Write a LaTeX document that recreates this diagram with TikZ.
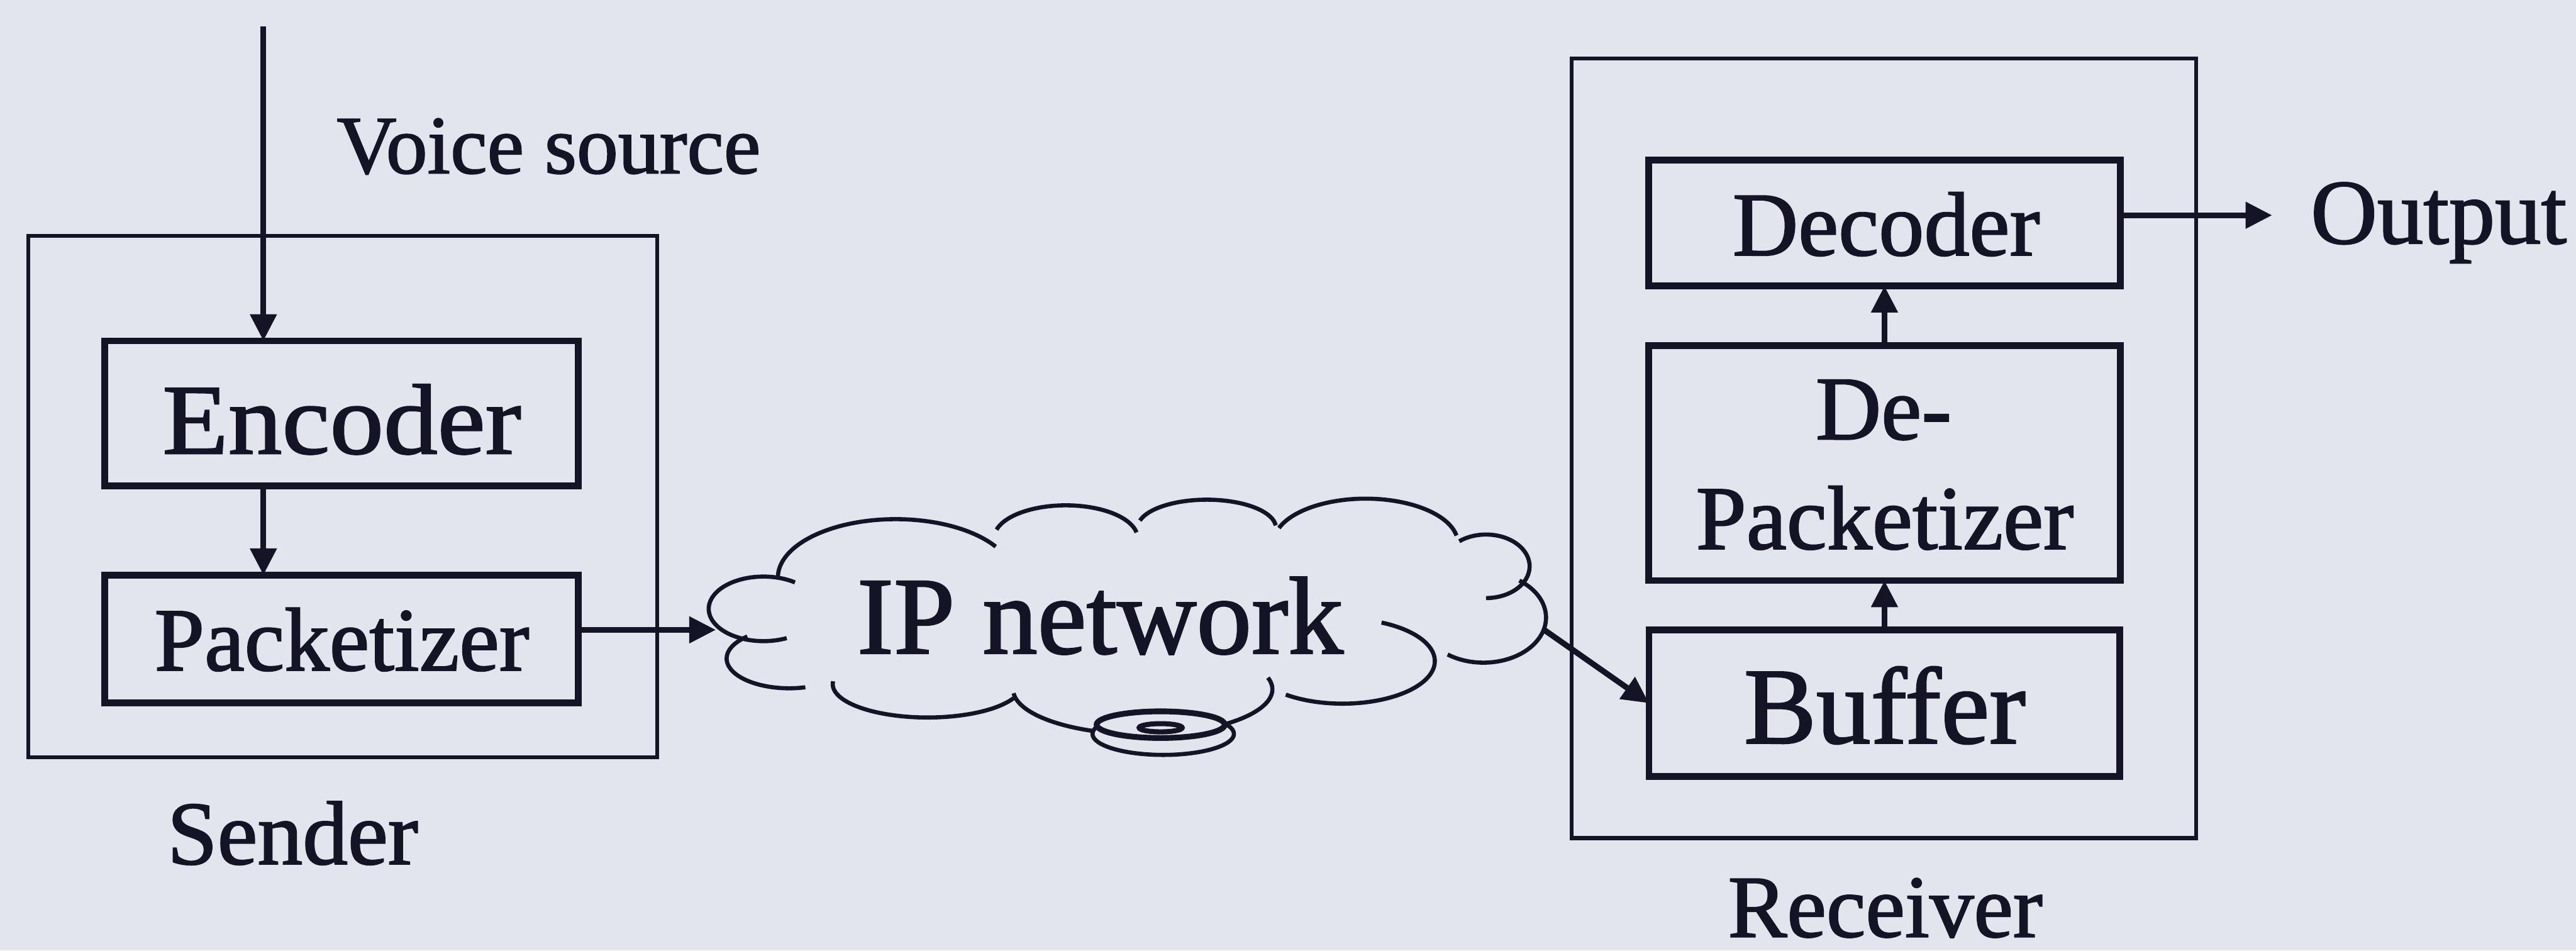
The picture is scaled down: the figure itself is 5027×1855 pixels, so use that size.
\documentclass[tikz,border=0pt]{standalone}
\usepackage{fontspec}
\setmainfont[FakeBold=1.5]{Liberation Serif}
\newfontfamily\wideserif[FakeStretch=1.08,FakeBold=1.5]{Liberation Serif}
\usetikzlibrary{arrows.meta}
\definecolor{bg}{RGB}{226,229,237}
\definecolor{ink}{RGB}{20,20,38}
\newcommand\cloudlobe[5]{\draw[cl] (#1) ++(#4:#2 and #3) arc[start angle=#4,end angle=#5,x radius=#2,y radius=#3];}
\begin{document}
\begin{tikzpicture}[x=0.005cm, y=-0.005cm,
  box/.style={draw=ink, line width=1.9pt, inner sep=0pt, outer sep=0pt},
  frame/.style={draw=ink, line width=1.1pt, inner sep=0pt, outer sep=0pt},
  arr/.style={draw=ink, line width=1.6pt, -{Triangle[length=2.6mm,width=2.5mm]}},
  cl/.style={draw=ink, line width=1.15pt},
  lab/.style={inner sep=0pt, text=ink, font=\fontsize{#1pt}{#1pt}\selectfont},
  widelab/.style={inner sep=0pt, text=ink, font=\wideserif\fontsize{#1pt}{#1pt}\selectfont}]
\fill[bg] (0,0) rectangle (5027,1855);
\useasboundingbox (0,0) rectangle (5027,1855);

% sender
\node[frame, minimum width=6.14cm, minimum height=5.09cm] (sender) at (669,969) {};
\node[box, minimum width=4.625cm, minimum height=1.415cm] (enc) at (666.5,806.5) {};
\node[box, minimum width=4.625cm, minimum height=1.25cm] (pack) at (666.5,1247) {};
\node[widelab=27.7, anchor=base] (enct) at (667,885) {Encoder};
\node[lab=25, anchor=base] (packt) at (667,1308) {Packetizer};
\node[lab=25.1, anchor=base] (sendt) at (571,1686) {Sender};
\node[lab=23, anchor=base west] (voice) at (656,338) {Voice source};

% receiver
\node[frame, minimum width=6.1cm, minimum height=7.615cm] (receiver) at (3676,874.5) {};
\node[box, minimum width=4.605cm, minimum height=1.23cm] (dec) at (3677.5,435) {};
\node[box, minimum width=4.605cm, minimum height=2.295cm] (dep) at (3677.5,903.5) {};
\node[box, minimum width=4.6cm, minimum height=1.43cm] (buf) at (3677.5,1372) {};
\node[lab=25.2, anchor=base] (dect) at (3681,498) {Decoder};
\node[lab=25.2, anchor=base] (dept1) at (3676,857) {De-};
\node[lab=25.2, anchor=base] (dept2) at (3678,1071) {Packetizer};
\node[lab=30.2, anchor=base] (buft) at (3678,1450) {Buffer};
\node[lab=25.6, anchor=base west] (outt) at (4508,475) {Output};
\node[lab=24.6, anchor=base] (recvt) at (3679,1828) {Receiver};

% cloud
\cloudlobe{1490,1188}{107}{63}{65}{305}
\cloudlobe{1748,1127}{230}{114}{180}{328}
\cloudlobe{2080,1050}{140}{64}{195}{350}
\cloudlobe{2355,1030}{135}{55}{195}{355}
\cloudlobe{2665,1060}{180}{87}{200}{350}
\cloudlobe{2900,1105}{85}{62}{232}{450}
\cloudlobe{2895,1205}{122}{88}{305}{485}
\cloudlobe{2620,1290}{180}{83}{295}{488}
\cloudlobe{2230,1345}{253}{88}{-15}{175}
\cloudlobe{1810,1335}{185}{65}{25}{185}
\cloudlobe{1540,1285}{122}{58}{75}{228}
\draw[cl, fill=bg] (2270,1432) ellipse[x radius=138, y radius=41];
\draw[ink, line width=1.6pt, fill=bg] (2265,1414) ellipse[x radius=125, y radius=26];
\draw[ink, line width=1.4pt] (2265,1420) ellipse[x radius=42, y radius=8];
\node[lab=30.6, anchor=base] (nett) at (2147,1275) {IP network};

% connectors
\coordinate (vtop) at (514,52);
\coordinate (netL) at (1397,1229);
\coordinate (netR) at (3012,1228);
\coordinate (outtip) at (4434,420);
\draw[arr] (vtop) -- (vtop |- enc.north);
\draw[arr] (enc.south -| vtop) -- (pack.north -| vtop);
\draw[arr] (pack.east |- netL) -- (netL);
\draw[arr] (netR) -- (buf.west);
\draw[arr] (buf.north) -- (dep.south);
\draw[arr] (dep.north) -- (dec.south);
\draw[arr] (dec.east |- outtip) -- (outtip);
\end{tikzpicture}
\end{document}
